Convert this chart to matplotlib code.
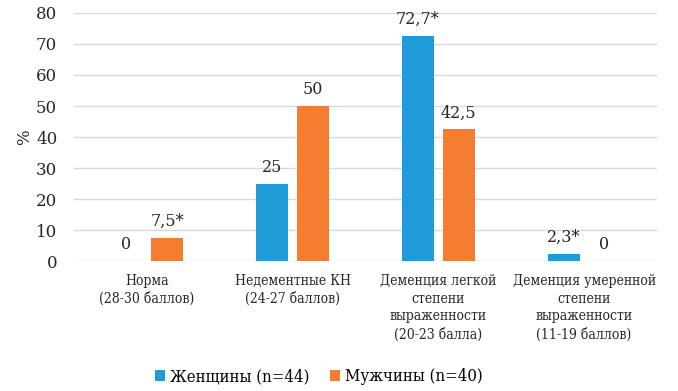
import numpy as np
import matplotlib.pyplot as plt

categories = ["Норма\n(28-30 баллов)",
              "Недементные КН\n(24-27 баллов)",
              "Деменция легкой\nстепени\nвыраженности\n(20-23 балла)",
              "Деменция умеренной\nстепени\nвыраженности\n(11-19 баллов)"]
women = [0, 25, 72.7, 2.3]
men = [7.5, 50, 42.5, 0]
women_labels = ["0", "25", "72,7*", "2,3*"]
men_labels = ["7,5*", "50", "42,5", "0"]

plt.rcParams['font.family'] = ['DejaVu Serif']

fig = plt.figure(figsize=(6.78, 3.91), dpi=100)
ax = fig.add_axes([0.109, 0.332, 0.86, 0.635])

x = np.arange(len(categories))
w = 0.22
off = 0.14
b1 = ax.bar(x - off, women, w, color='#1f9cd8', label='Женщины (n=44)', zorder=3)
b2 = ax.bar(x + off, men, w, color='#f47d30', label='Мужчины (n=40)', zorder=3)

for rect, lab in zip(b1, women_labels):
    ax.text(rect.get_x() + rect.get_width()/2, rect.get_height() + 2.5, lab,
            ha='center', va='bottom', fontsize=11.5, color='#262626')
for rect, lab in zip(b2, men_labels):
    ax.text(rect.get_x() + rect.get_width()/2, rect.get_height() + 2.5, lab,
            ha='center', va='bottom', fontsize=11.5, color='#262626')

ax.set_ylim(0, 80)
ax.set_xlim(-0.5, 3.5)
ax.set_yticks(range(0, 81, 10))
ax.yaxis.grid(True, color='#d9d9d9', linewidth=1, zorder=0)
for s in ax.spines.values():
    s.set_visible(False)
ax.tick_params(axis='both', length=0)
ax.tick_params(axis='y', labelsize=12, colors='#262626', pad=12)
ax.set_xticks(x)
ax.set_xticklabels(categories, fontsize=10, color='#262626', linespacing=1.35,
                   fontstretch='condensed')
ax.tick_params(axis='x', pad=9)
ax.set_ylabel('%', fontsize=12, color='#262626', labelpad=2)

fig.legend(loc='center', bbox_to_anchor=(0.47, 0.036), ncol=2, frameon=False,
           prop={'size': 12, 'stretch': 'condensed'},
           handlelength=0.6, handleheight=0.6, handletextpad=0.3,
           columnspacing=1.2)

fig.savefig('out.png', dpi=100)
